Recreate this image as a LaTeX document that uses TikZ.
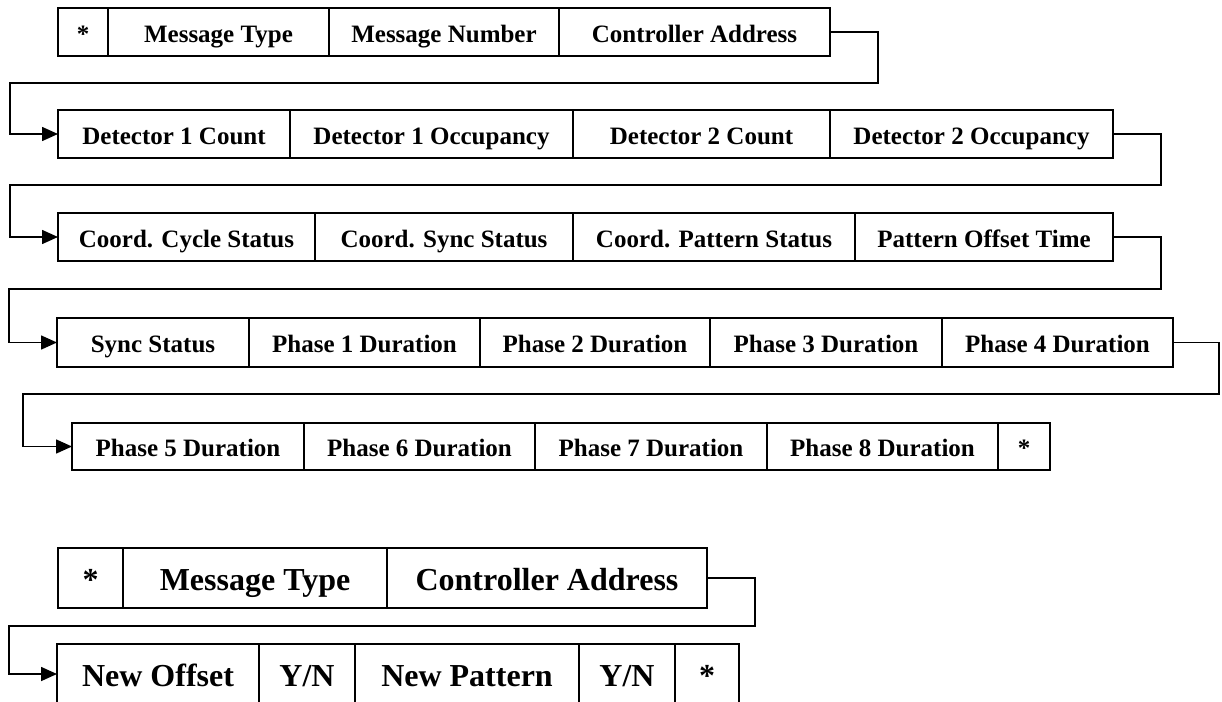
\documentclass[tikz,border=0pt]{standalone}
\usepackage{fontspec}
\setmainfont{Liberation Serif}
\usetikzlibrary{arrows.meta}
\tikzset{
  cellbox/.style={draw, line width=1.6pt, rectangle, inner sep=0pt, outer sep=0pt, align=center, text height=24pt, text depth=4pt, font=\bfseries\fontsize{25}{30}\selectfont},
  bigcell/.style={cellbox, text height=29pt, text depth=5pt, font=\bfseries\fontsize{32}{38}\selectfont},
  link/.style={line width=1.6pt, -{Triangle[length=16pt,width=14pt]}}
}
% #1 style, #2 name, #3 left, #4 right, #5 top, #6 bottom, #7 text
\newcommand\mkcell[7]{%
  \node[#1, minimum width={(#4-#3)*1pt}, minimum height={(#6-#5)*1pt}] (#2) at ({(#3+#4)/2},{(#5+#6)/2}) {#7};}
\begin{document}
\begin{tikzpicture}[x=1pt,y=-1pt]
\useasboundingbox (0,0) rectangle (1222,701);
\clip (0,0) rectangle (1222,701);
% Row 1
\mkcell{cellbox}{ra}{58}{108}{8}{56}{*}
\mkcell{cellbox}{rb}{108}{329}{8}{56}{Message Type}
\mkcell{cellbox}{rc}{329}{559}{8}{56}{Message Number}
\mkcell{cellbox}{rd}{559}{830}{8}{56}{Controller Address}
% Row 2
\mkcell{cellbox}{sa}{58}{290}{110}{158}{Detector 1 Count}
\mkcell{cellbox}{sb}{290}{573}{110}{158}{Detector 1 Occupancy}
\mkcell{cellbox}{sc}{573}{830}{110}{158}{Detector 2 Count}
\mkcell{cellbox}{sd}{830}{1113}{110}{158}{Detector 2 Occupancy}
% Row 3
\mkcell{cellbox}{ta}{58}{315}{213}{261}{Coord. Cycle Status}
\mkcell{cellbox}{tb}{315}{573}{213}{261}{Coord. Sync Status}
\mkcell{cellbox}{tc}{573}{855}{213}{261}{Coord. Pattern Status}
\mkcell{cellbox}{td}{855}{1113}{213}{261}{Pattern Offset Time}
% Row 4
\mkcell{cellbox}{ua}{57}{249}{318}{367}{Sync Status}
\mkcell{cellbox}{ub}{249}{480}{318}{367}{Phase 1 Duration}
\mkcell{cellbox}{uc}{480}{710}{318}{367}{Phase 2 Duration}
\mkcell{cellbox}{ud}{710}{942}{318}{367}{Phase 3 Duration}
\mkcell{cellbox}{ue}{942}{1173}{318}{367}{Phase 4 Duration}
% Row 5
\mkcell{cellbox}{va}{72}{304}{423}{470}{Phase 5 Duration}
\mkcell{cellbox}{vb}{304}{535}{423}{470}{Phase 6 Duration}
\mkcell{cellbox}{vc}{535}{767}{423}{470}{Phase 7 Duration}
\mkcell{cellbox}{vd}{767}{998}{423}{470}{Phase 8 Duration}
\mkcell{cellbox}{ve}{998}{1050}{423}{470}{*}
% Second message, row 1
\mkcell{bigcell}{wa}{58}{123}{548}{608}{*}
\mkcell{bigcell}{wb}{123}{387}{548}{608}{Message Type}
\mkcell{bigcell}{wc}{387}{707}{548}{608}{Controller Address}
% Second message, row 2
\mkcell{bigcell}{xa}{57}{259}{644}{704}{New Offset}
\mkcell{bigcell}{xb}{259}{355}{644}{704}{Y/N}
\mkcell{bigcell}{xc}{355}{579}{644}{704}{New Pattern}
\mkcell{bigcell}{xd}{579}{675}{644}{704}{Y/N}
\mkcell{bigcell}{xe}{675}{739}{644}{704}{*}
% turn points
\coordinate (k1) at (878,83);  \coordinate (m1) at (10,83);
\coordinate (k2) at (1161,185); \coordinate (m2) at (10,185);
\coordinate (k3) at (1161,289); \coordinate (m3) at (9,289);
\coordinate (k4) at (1219,394); \coordinate (m4) at (23,394);
\coordinate (k5) at (755,626);  \coordinate (m5) at (9,626);
% connectors
\draw[link] (rd.east) -| (k1) -- (m1) |- (sa.west);
\draw[link] (sd.east) -| (k2) -- (m2) |- (ta.west);
\draw[link] (td.east) -| (k3) -- (m3) |- (ua.west);
\draw[link] (ue.east) -| (k4) -- (m4) |- (va.west);
\draw[link] (wc.east) -| (k5) -- (m5) |- (xa.west);
\end{tikzpicture}
\end{document}
